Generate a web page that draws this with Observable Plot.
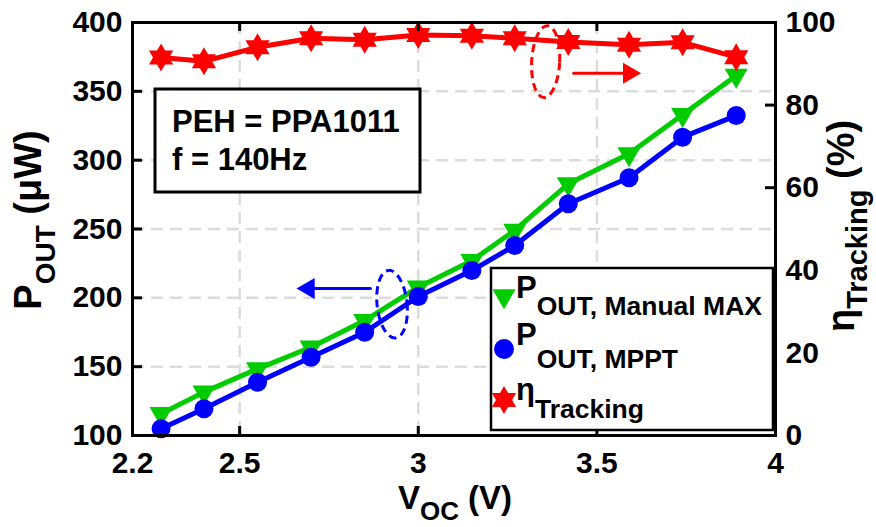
<!DOCTYPE html>
<html>
<head>
<meta charset="utf-8">
<script src="https://cdn.jsdelivr.net/npm/d3@7"></script>
<script src="https://cdn.jsdelivr.net/npm/@observablehq/plot@0.6"></script>
<style>
html, body { margin: 0; padding: 0; background: #ffffff; }
#chart svg { display: block; font-family: "Liberation Sans", Arial, sans-serif; font-weight: bold; }
</style>
</head>
<body>
<div id="chart"></div>
<script>
// ---- data ----
const voc = [2.28, 2.4, 2.55, 2.7, 2.85, 3.0, 3.15, 3.27, 3.42, 3.59, 3.74, 3.89];
const pOutManualMax = [115.8, 131.5, 148.4, 164.1, 183.5, 207.7, 227.0, 249.0, 282.8, 304.6, 333.0, 361.5];
const pOutMppt = [104.9, 119.4, 138.7, 156.9, 175.0, 201.0, 219.8, 238.0, 268.3, 287.2, 316.7, 332.4];
const etaTracking = [91.5, 90.6, 94.0, 96.2, 95.8, 97.0, 96.8, 96.2, 95.3, 94.6, 95.2, 91.6];

const xTicks = [2.2, 2.5, 3, 3.5, 4];
const xGridTicks = [2.5, 3, 3.5];
const yLeftTicks = [100, 150, 200, 250, 300, 350, 400];
const yGridTicks = [150, 200, 250, 300, 350];
const yRightTicks = [0, 20, 40, 60, 80, 100];

const legendLabels = [
  {main: "P", sub: "OUT, Manual MAX"},
  {main: "P", sub: "OUT, MPPT"},
  {main: "\u03B7", sub: "Tracking"}
];
const noteLines = ["PEH = PPA1011", "f = 140Hz"];

// annotation anchors (data units)
const redArrowV = [3.435, 3.59];   const redArrowEta = 87.7;
const blueArrowV = [2.866, 2.693]; const blueArrowP = 206.8;
const redEllipse = {v: 3.358, eta: 90.4};
const blueEllipse = {v: 2.928, p: 195.0};

// ---- helpers ----
const GREEN = "#00cc00", BLUE = "#0000ff", RED = "#ff0000";
const toLeft = eta => 100 + eta * 3; // right axis (0..100 %) onto left axis (100..400 uW)

const rows = voc.map((v, i) => ({v, manual: pOutManualMax[i], mppt: pOutMppt[i], eta: toLeft(etaTracking[i])}));

const hexagram = {
  draw(context, size) {
    const R = Math.sqrt(size / Math.PI);
    const r = R / Math.sqrt(3);
    for (let i = 0; i < 12; i++) {
      const a = -Math.PI / 2 + i * Math.PI / 6;
      const rad = i % 2 === 0 ? R : r;
      const px = rad * Math.cos(a), py = rad * Math.sin(a);
      if (i === 0) context.moveTo(px, py); else context.lineTo(px, py);
    }
    context.closePath();
  }
};

const W = 876, H = 527, mL = 132, mR = 101, mT = 22, mB = 92;
const innerW = W - mL - mR, innerH = H - mT - mB;
const gridStyle = {stroke: "#dcdcdc", strokeOpacity: 1, strokeWidth: 2.5, strokeDasharray: "12,7"};
const tickFont = 30;

const plot = Plot.plot({
  width: W, height: H,
  marginLeft: mL, marginRight: mR, marginTop: mT, marginBottom: mB,
  x: {domain: [2.2, 4]},
  y: {domain: [100, 400]},
  marks: [
    Plot.gridX(xGridTicks, gridStyle),
    Plot.gridY(yGridTicks, gridStyle),
    Plot.line(rows, {x: "v", y: "manual", stroke: GREEN, strokeWidth: 5}),
    Plot.dot(rows, {x: "v", y: "manual", symbol: "triangle2", rotate: 180, r: 11, fill: GREEN, stroke: "none"}),
    Plot.line(rows, {x: "v", y: "mppt", stroke: BLUE, strokeWidth: 5}),
    Plot.dot(rows, {x: "v", y: "mppt", r: 9.5, fill: BLUE, stroke: "none"}),
    Plot.line(rows, {x: "v", y: "eta", stroke: RED, strokeWidth: 5}),
    Plot.dot(rows, {x: "v", y: "eta", symbol: hexagram, r: 14, fill: RED, stroke: "none"}),
    // arrows
    Plot.line(redArrowV.map(v => ({v, y: toLeft(redArrowEta)})), {x: "v", y: "y", stroke: RED, strokeWidth: 3}),
    Plot.dot([{v: redArrowV[1], y: toLeft(redArrowEta)}], {x: "v", y: "y", symbol: "triangle2", rotate: 90, r: 10, fill: RED, stroke: "none"}),
    Plot.line(blueArrowV.map(v => ({v, y: blueArrowP})), {x: "v", y: "y", stroke: BLUE, strokeWidth: 3}),
    Plot.dot([{v: blueArrowV[1], y: blueArrowP}], {x: "v", y: "y", symbol: "triangle2", rotate: -90, r: 10, fill: BLUE, stroke: "none"}),
    Plot.frame({stroke: "black", strokeWidth: 3}),
    // inward tick marks
    Plot.tickX(xTicks, {x: d => d, insetTop: innerH - 9, stroke: "black", strokeWidth: 3}),
    Plot.tickX(xTicks, {x: d => d, insetBottom: innerH - 9, stroke: "black", strokeWidth: 3}),
    Plot.tickY(yLeftTicks, {y: d => d, insetRight: innerW - 10, stroke: "black", strokeWidth: 3}),
    Plot.tickY(yRightTicks.map(toLeft), {y: d => d, insetLeft: innerW - 10, stroke: "black", strokeWidth: 3}),
    // axes labels
    Plot.axisX(xTicks, {anchor: "bottom", tickSize: 0, tickPadding: 16, fontSize: tickFont, fontWeight: "bold", tickFormat: d => String(d), label: null}),
    Plot.axisY(yLeftTicks, {anchor: "left", tickSize: 0, tickPadding: 10, fontSize: tickFont, fontWeight: "bold", tickFormat: d => String(d), label: null}),
    Plot.axisY(yRightTicks.map(toLeft), {anchor: "right", tickSize: 0, tickPadding: 10, fontSize: tickFont, fontWeight: "bold", tickFormat: d => String(Math.round((d - 100) / 3)), label: null})
  ]
});

document.getElementById("chart").appendChild(plot);

// ---- overlays: ellipses, text box, legend, axis titles ----
const svg = d3.select(plot);
const sx = plot.scale("x"), sy = plot.scale("y");

svg.append("ellipse")
  .attr("cx", sx.apply(redEllipse.v)).attr("cy", sy.apply(toLeft(redEllipse.eta)))
  .attr("rx", 14).attr("ry", 36)
  .attr("transform", `rotate(3 ${sx.apply(redEllipse.v)} ${sy.apply(toLeft(redEllipse.eta))})`)
  .attr("fill", "none").attr("stroke", RED).attr("stroke-width", 3).attr("stroke-dasharray", "8,5");
svg.append("ellipse")
  .attr("cx", sx.apply(blueEllipse.v)).attr("cy", sy.apply(blueEllipse.p))
  .attr("rx", 15).attr("ry", 34)
  .attr("transform", `rotate(-6 ${sx.apply(blueEllipse.v)} ${sy.apply(blueEllipse.p)})`)
  .attr("fill", "none").attr("stroke", BLUE).attr("stroke-width", 3).attr("stroke-dasharray", "8,5");

// annotation box
const note = svg.append("g").attr("text-anchor", "start");
note.append("rect").attr("x", 155).attr("y", 89).attr("width", 265).attr("height", 103)
  .attr("fill", "white").attr("stroke", "black").attr("stroke-width", 3);
noteLines.forEach((t, i) => {
  note.append("text").attr("x", 172).attr("y", 132 + i * 38).attr("text-anchor", "start")
    .attr("font-size", 31).attr("font-weight", "bold").attr("fill", "black").text(t);
});

// legend
const leg = svg.append("g").attr("text-anchor", "start");
leg.append("rect").attr("x", 491).attr("y", 268).attr("width", 282).attr("height", 162)
  .attr("fill", "white").attr("stroke", "black").attr("stroke-width", 2.5);
const legMarkers = [
  {sym: d3.symbolTriangle2, size: Math.PI * 11 * 11, rot: 180, color: GREEN, cy: 296},
  {sym: d3.symbolCircle, size: Math.PI * 10 * 10, rot: 0, color: BLUE, cy: 349},
  {sym: hexagram, size: Math.PI * 14 * 14, rot: 0, color: RED, cy: 400}
];
const legMainBase = [298, 345, 400];
const legSubBase = [315, 368, 418];
legMarkers.forEach((m, i) => {
  leg.append("path").attr("d", d3.symbol(m.sym, m.size)())
    .attr("transform", `translate(504,${m.cy}) rotate(${m.rot})`).attr("fill", m.color);
  const t = leg.append("text").attr("x", 516).attr("y", legMainBase[i]).attr("text-anchor", "start")
    .attr("font-weight", "bold").attr("fill", "black");
  t.append("tspan").attr("font-size", 31).text(legendLabels[i].main);
  t.append("tspan").attr("font-size", 26.5).attr("dy", legSubBase[i] - legMainBase[i]).text(legendLabels[i].sub);
});

// axis titles
function titleText(g, parts) {
  const t = g.append("text").attr("text-anchor", "middle").attr("font-weight", "bold").attr("fill", "black");
  parts.forEach(p => t.append("tspan").attr("font-size", p.size).attr("dy", p.dy).text(p.text));
  return t;
}
titleText(svg.append("g").attr("transform", "translate(41,220) rotate(-90)"), [
  {text: "P", size: 38, dy: 0},
  {text: "OUT", size: 28, dy: 14},
  {text: " (\u03BCW)", size: 38, dy: -14}
]);
titleText(svg.append("g").attr("transform", "translate(854,226) rotate(-90)"), [
  {text: "\u03B7", size: 38, dy: 0},
  {text: "Tracking", size: 29, dy: 13},
  {text: " (%)", size: 38, dy: -13}
]);
titleText(svg.append("g").attr("transform", "translate(455,509)"), [
  {text: "V", size: 33, dy: 0},
  {text: "OC", size: 26, dy: 11},
  {text: " (V)", size: 33, dy: -11}
]);
</script>
</body>
</html>
